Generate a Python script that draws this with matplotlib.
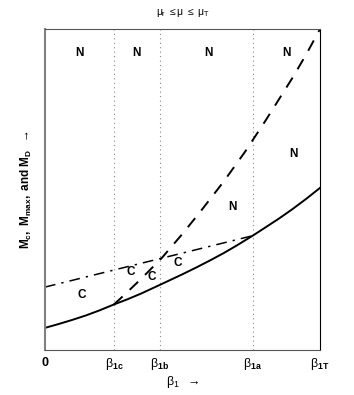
import matplotlib
matplotlib.use("Agg")
import matplotlib.pyplot as plt

plt.rcParams['font.family'] = ['Liberation Sans', 'DejaVu Sans']
plt.rcParams['mathtext.fontset'] = 'custom'
plt.rcParams['mathtext.rm'] = 'Liberation Sans'
plt.rcParams['mathtext.it'] = 'Liberation Sans'
plt.rcParams['mathtext.bf'] = 'Liberation Sans:bold'

# beta_1 break points (fraction of beta_1T)
beta_ticks = [0.0, 0.251, 0.418, 0.755, 1.0]
beta_labels = [r'$\mathbf{0}$', r'$\beta_{\mathbf{1c}}$', r'$\beta_{\mathbf{1b}}$',
               r'$\beta_{\mathbf{1a}}$', r'$\beta_{\mathbf{1T}}$']

# solid curve (M_c)
solid_x = [0.0, 0.05, 0.1, 0.15, 0.2, 0.251, 0.3, 0.35, 0.418, 0.5, 0.55, 0.6,
           0.65, 0.7, 0.755, 0.8, 0.85, 0.9, 0.95, 1.0]
solid_y = [0.069, 0.081, 0.094, 0.108, 0.124, 0.142, 0.158, 0.176, 0.203, 0.236, 0.257, 0.279,
           0.302, 0.327, 0.356, 0.381, 0.409, 0.439, 0.471, 0.505]

# dashed curve (M_max)
dash_x = [0.251, 0.3, 0.35, 0.425, 0.5, 0.564, 0.65, 0.727, 0.8, 0.85, 0.9, 0.95, 1.0]
dash_y = [0.142, 0.181, 0.222, 0.287, 0.362, 0.430, 0.525, 0.617, 0.712, 0.780, 0.848, 0.921, 1.0]

# dash-dot line (M_D)
dd_x = [0.0, 0.755]
dd_y = [0.196, 0.356]

# region labels
n_x = [0.124, 0.333, 0.593, 0.879, 0.903, 0.68]
n_y = [0.925, 0.925, 0.925, 0.925, 0.610, 0.445]
c_x = [0.133, 0.313, 0.388, 0.481]
c_y = [0.171, 0.242, 0.228, 0.270]

fig = plt.figure(figsize=(3.54, 3.95), dpi=100)
ax = fig.add_axes([45 / 354, 45 / 395, 275 / 354, 321 / 395])

for b in beta_ticks[1:4]:
    ax.axvline(b, color='#888888', linestyle=(0, (1, 3)), linewidth=0.8)

ax.plot(solid_x, solid_y, color='black', linewidth=1.4, linestyle='-')
ax.plot(dash_x, dash_y, color='black', linewidth=1.4, linestyle=(0, (6, 5)))
ax.plot(dd_x, dd_y, color='black', linewidth=1.1, linestyle=(0, (7, 4, 1.5, 4)))

for x, y in zip(n_x, n_y):
    ax.text(x, y, 'N', fontsize=8.5, fontweight='bold', ha='center', va='center')
for x, y in zip(c_x, c_y):
    ax.text(x, y, 'C', fontsize=8.5, fontweight='bold', ha='center', va='center')

ax.set_xlim(0, 1)
ax.set_ylim(0, 1)
ax.set_xticks(beta_ticks)
ax.set_xticklabels(beta_labels, fontsize=9)
ax.set_yticks([])
ax.tick_params(axis='x', length=0, pad=4)

ax.spines['left'].set_color('#808080')
ax.spines['left'].set_linewidth(1.5)
for s in ['top', 'bottom']:
    ax.spines[s].set_color('#555555')
ax.spines['right'].set_color('black')

ax.set_xlabel(r'$\beta_1$  $\rightarrow$', fontsize=9, labelpad=2)
ax.set_ylabel(r'$\mathbf{M_c,\ M_{max},\ and\ M_D}$  $\rightarrow$', fontsize=8.5, labelpad=8)
ax.set_title(r'$\mu_r\ \leq\mu\ \leq\ \mu_T$', fontsize=7.5, pad=10)

fig.savefig('out.png', dpi=100)
